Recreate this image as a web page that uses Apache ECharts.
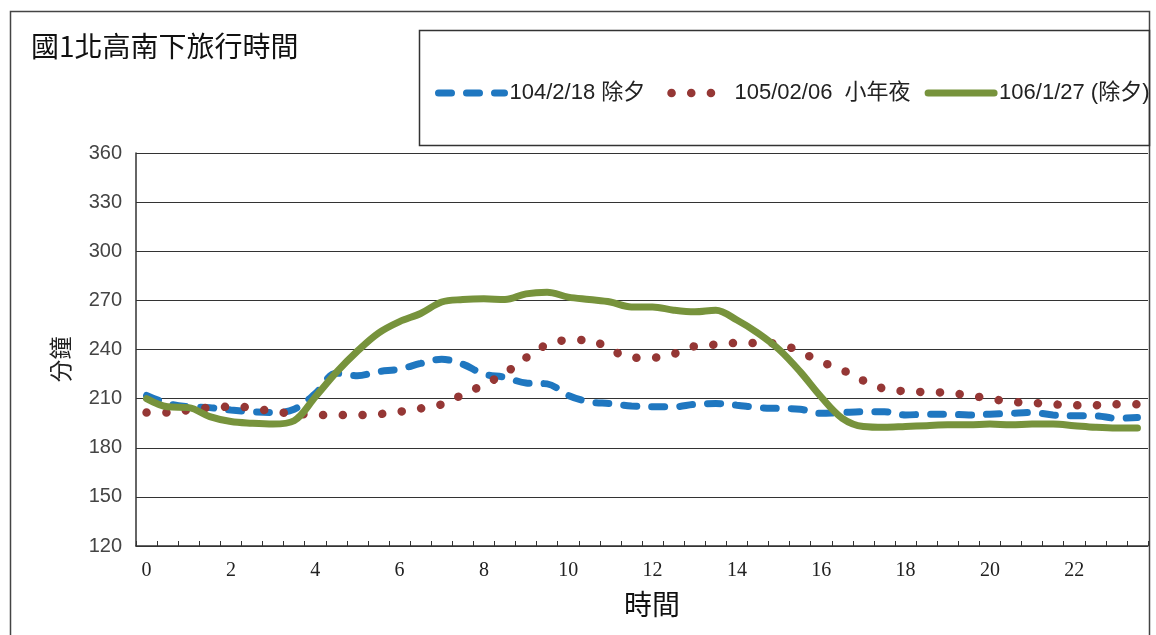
<!DOCTYPE html>
<html>
<head>
<meta charset="utf-8">
<script src="https://cdn.jsdelivr.net/npm/echarts@6/dist/echarts.min.js"></script>
<style>
html,body{margin:0;padding:0;background:#fff;}
#c{width:1156px;height:635px;}
</style>
</head>
<body>
<div id="c"></div>
<script>
const hours = ['0','0.5','1','1.5','2','2.5','3','3.5','4','4.5','5','5.5','6','6.5','7','7.5','8','8.5','9','9.5','10','10.5','11','11.5','12','12.5','13','13.5','14','14.5','15','15.5','16','16.5','17','17.5','18','18.5','19','19.5','20','20.5','21','21.5','22','22.5','23','23.5'];
const seriesNames = ['104/2/18 除夕', '105/02/06  小年夜', '106/1/27 (除夕)'];
const blue104 = [212, 207, 205, 204.5, 203, 202, 201.5, 203.5, 213, 225.5, 224, 226.5,
                 228, 231.5, 234, 231, 225, 223, 219.5, 219, 212, 208, 207, 205.5,
                 205, 205, 206.5, 207, 206, 204.5, 204, 203.5, 201, 201.5, 202, 202,
                 200, 200.5, 200.5, 200, 200.5, 201, 201.5, 200, 199.5, 199.5, 198, 198.5];
const red105 = [201.5, 201.5, 203, 204.5, 205, 204.5, 202, 201, 200, 200, 200, 200.5,
                202, 204, 206.5, 212.5, 218.5, 225.5, 235, 243, 245.7, 245.8, 240, 235,
                235, 237.3, 242, 243, 244, 244, 243.5, 238.5, 232.5, 227.5, 221, 216,
                214.5, 214, 213.5, 212, 210, 208, 207.5, 206.5, 206, 206, 206.5, 206.5];
const green106 = [210, 205, 204.5, 199, 196, 195, 194.5, 196.5, 211, 226, 239, 250,
                  257, 262, 269, 270.5, 271, 270.5, 274, 275, 272, 270.5, 269, 266,
                  266, 264, 263, 264, 258, 250, 240, 226.5, 211, 198, 193, 192.5,
                  193, 193.5, 194, 194, 194.5, 194, 194.5, 194.5, 193.5, 192.5, 192, 192];
const yTicks = {min: 120, max: 360, interval: 30};

const blueStyle = {color: '#1f77c0', width: 7, type: [13, 15], cap: 'round'};
const redStyle = {color: '#953735', width: 8.5, type: [0.1, 19.6], cap: 'round'};
const greenStyle = {color: '#77933c', width: 7, cap: 'round'};

const chart = echarts.init(document.getElementById('c'), null, {renderer: 'canvas'});
const option = {
  backgroundColor: '#fff',
  animation: false,
  title: {
    text: '國1北高南下旅行時間',
    left: 26, top: 27,
    textStyle: {fontFamily: 'Noto Sans CJK TC', fontSize: 28, fontWeight: 'normal', color: '#111'}
  },
  graphic: [
    {type: 'rect', silent: true, z: -1, shape: {x: 10.5, y: 11.5, width: 1139, height: 650},
     style: {fill: null, stroke: '#444', lineWidth: 1.5}},
    {type: 'rect', silent: true, z: -1, shape: {x: 419.5, y: 30.5, width: 730, height: 115},
     style: {fill: null, stroke: '#333', lineWidth: 1.5}}
  ],
  legend: {
    left: 430, top: 77,
    itemWidth: 66, itemHeight: 20, itemGap: 14,
    data: [
      {name: seriesNames[0], itemStyle: {opacity: 0}, lineStyle: {width: 7, color: '#1f77c0', type: [13, 15], cap: 'round'}},
      {name: seriesNames[1], itemStyle: {opacity: 0}, lineStyle: {width: 8.5, color: '#953735', type: [0.1, 19.6], dashOffset: -8, cap: 'round'}},
      {name: seriesNames[2], itemStyle: {opacity: 0}, lineStyle: {width: 7, color: '#77933c', cap: 'round'}}
    ],
    textStyle: {fontFamily: 'Liberation Sans, Noto Sans CJK TC', fontSize: 22, color: '#222'}
  },
  grid: {left: 136, right: 8, top: 153, bottom: 89, containLabel: false},
  xAxis: {
    type: 'category',
    data: hours,
    boundaryGap: true,
    name: '時間',
    nameLocation: 'middle',
    nameGap: 44,
    nameTextStyle: {fontFamily: 'Noto Sans CJK TC', fontSize: 28, color: '#111', padding: [0, 0, 0, 20]},
    axisLine: {lineStyle: {color: '#333', width: 1.5}},
    axisTick: {show: true, interval: 0, inside: true, length: 5, lineStyle: {color: '#333'}},
    axisLabel: {interval: 3, margin: 15, fontFamily: 'Liberation Serif', fontSize: 20, color: '#222'},
    splitLine: {show: false}
  },
  yAxis: {
    type: 'value',
    min: yTicks.min, max: yTicks.max, interval: yTicks.interval,
    name: '分鐘',
    nameLocation: 'middle',
    nameRotate: 90,
    nameGap: 64,
    nameTextStyle: {fontFamily: 'Noto Sans CJK TC', fontSize: 23, color: '#222', padding: [0, 0, 0, -20]},
    axisLine: {show: true, lineStyle: {color: '#333', width: 1.5}},
    axisTick: {show: false},
    axisLabel: {margin: 14, fontFamily: 'Liberation Sans', fontSize: 20, color: '#444'},
    splitLine: {lineStyle: {color: '#333', width: 1.2}}
  },
  series: [
    {name: seriesNames[0], type: 'line', data: blue104, smooth: 0.35, symbol: 'none', z: 2,
     lineStyle: blueStyle, itemStyle: {color: blueStyle.color}},
    {name: seriesNames[1], type: 'line', data: red105, smooth: 0.35, symbol: 'none', z: 3,
     lineStyle: redStyle, itemStyle: {color: redStyle.color}},
    {name: seriesNames[2], type: 'line', data: green106, smooth: 0.35, symbol: 'none', z: 4,
     lineStyle: greenStyle, itemStyle: {color: greenStyle.color}}
  ]
};
chart.setOption(option);
</script>
</body>
</html>
